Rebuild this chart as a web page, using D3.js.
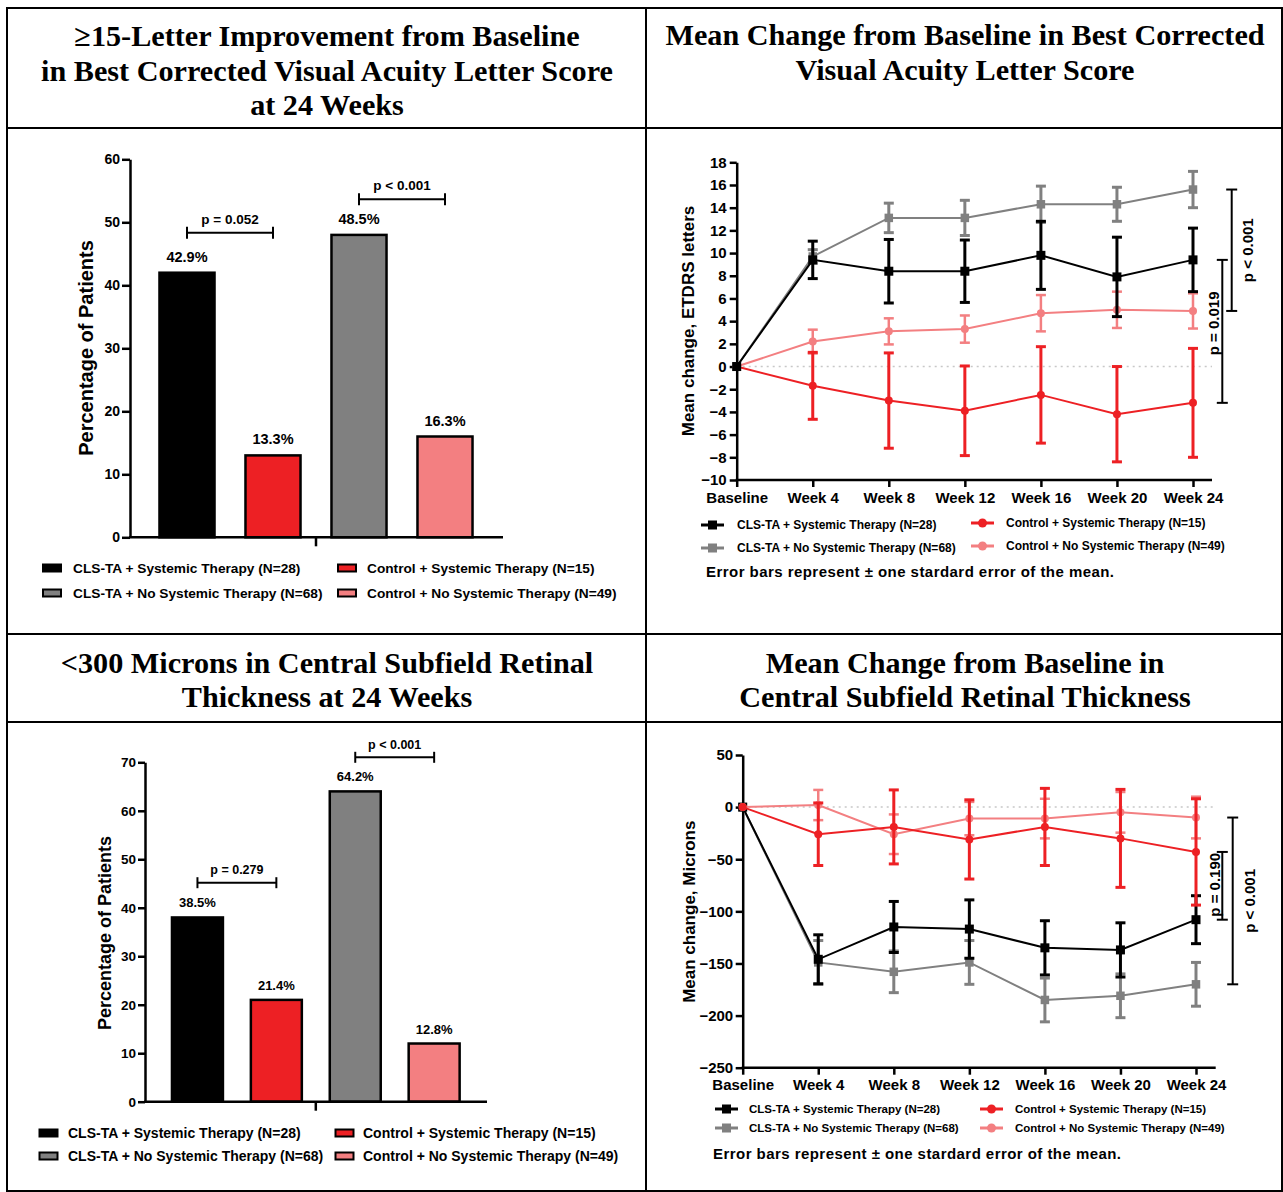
<!DOCTYPE html>
<html><head><meta charset="utf-8">
<script src="https://cdn.jsdelivr.net/npm/d3@7"></script>
<style>body{margin:0;background:#fff}svg{display:block}</style>
</head><body>
<svg id="c" width="1283" height="1192"></svg>
<script>
// ---------- DATA ----------
const groupNames = [
  "CLS-TA + Systemic Therapy (N=28)",
  "Control + Systemic Therapy (N=15)",
  "CLS-TA + No Systemic Therapy (N=68)",
  "Control + No Systemic Therapy (N=49)"
];
// bar charts (order: CLS-TA+Sys, Control+Sys, CLS-TA+NoSys, Control+NoSys)
const bcvaBarValues = [42, 13, 48, 16];
const bcvaBarLabels = ["42.9%", "13.3%", "48.5%", "16.3%"];
const bcvaBarPvals = ["p = 0.052", "p < 0.001"];
const cstBarValues = [38, 21, 64, 12];
const cstBarLabels = ["38.5%", "21.4%", "64.2%", "12.8%"];
const cstBarPvals = ["p = 0.279", "p < 0.001"];

const weeks = ["Baseline", "Week 4", "Week 8", "Week 12", "Week 16", "Week 20", "Week 24"];
// BCVA mean change (ETDRS letters) and SE
const bcvaClsSys = [0, 9.4, 8.4, 8.4, 9.8, 7.9, 9.4];
const bcvaClsSysSE = [0, 1.65, 2.8, 2.75, 3.0, 3.5, 2.8];
const bcvaClsNoSys = [0, 9.7, 13.1, 13.1, 14.3, 14.3, 15.6];
const bcvaClsNoSysSE = [0, 0.6, 1.3, 1.55, 1.6, 1.5, 1.6];
const bcvaCtlSys = [0, -1.7, -3.0, -3.9, -2.5, -4.2, -3.2];
const bcvaCtlSysSE = [0, 2.95, 4.2, 3.95, 4.25, 4.2, 4.8];
const bcvaCtlNoSys = [0, 2.2, 3.1, 3.3, 4.7, 5.0, 4.9];
const bcvaCtlNoSysSE = [0, 1.05, 1.15, 1.2, 1.6, 1.6, 1.55];
const bcvaLinePvals = ["p < 0.001", "p = 0.019"];
// CST mean change (microns) and SE
const cstClsSys = [0, -146, -115, -117, -135, -137, -108];
const cstClsSysSE = [0, 23.5, 24.5, 28, 26, 26, 23];
const cstClsNoSys = [0, -149, -158, -149, -185, -181, -170];
const cstClsNoSysSE = [0, 21, 20, 21, 21, 21, 21];
const cstCtlSys = [0, -26, -19, -31, -19, -30, -43];
const cstCtlSysSE = [0, 30, 35.5, 38, 37, 47, 51];
const cstCtlNoSys = [0, 2, -26, -11, -11, -5, -10];
const cstCtlNoSysSE = [0, 14.5, 19, 16, 19, 19.5, 20];
const cstLinePvals = ["p < 0.001", "p = 0.190"];

const errNote = "Error bars represent ± one stardard error of the mean.";

// ---------- STYLE ----------
const COL = {black: "#000000", red: "#ed2024", gray: "#808080", pink: "#f37f81"};
const barColors = [COL.black, COL.red, COL.gray, COL.pink];
const SANS = "'Liberation Sans', Arial, Helvetica, sans-serif";
const SERIF = "'Liberation Serif', 'Times New Roman', serif";

const svg = d3.select("#c");

// ---------- FRAME ----------
const frame = svg.append("g").attr("stroke", "#000").attr("stroke-width", 2).attr("fill", "none");
frame.append("rect").attr("x", 7).attr("y", 8).attr("width", 1275).attr("height", 1183);
[[7, 128, 1282, 128], [7, 634, 1282, 634], [7, 722, 1282, 722], [646, 8, 646, 1191]].forEach(l =>
  frame.append("line").attr("x1", l[0]).attr("y1", l[1]).attr("x2", l[2]).attr("y2", l[3]));

function title(cx, lines, baselines) {
  lines.forEach((t, i) => svg.append("text").attr("x", cx).attr("y", baselines[i])
    .attr("text-anchor", "middle").attr("font-family", SERIF).attr("font-weight", "bold")
    .attr("font-size", 30.2).text(t));
}
title(327, ["≥15-Letter Improvement from Baseline", "in Best Corrected Visual Acuity Letter Score", "at 24 Weeks"], [46, 81, 115]);
title(965, ["Mean Change from Baseline in Best Corrected", "Visual Acuity Letter Score"], [45, 80]);
title(327, ["<300 Microns in Central Subfield Retinal", "Thickness at 24 Weeks"], [673, 707]);
title(965, ["Mean Change from Baseline in", "Central Subfield Retinal Thickness"], [673, 707]);

function styleAxis(g, fs, sw) {
  g.select(".domain").attr("stroke", "#000").attr("stroke-width", sw);
  g.selectAll(".tick line").attr("stroke", "#000").attr("stroke-width", sw);
  g.selectAll(".tick text").attr("font-family", SANS).attr("font-weight", "bold")
    .attr("font-size", fs).attr("fill", "#000");
}

// ---------- BAR CHART ----------
function barChart(cfg) {
  const g = svg.append("g");
  const y = d3.scaleLinear().domain([0, cfg.yMax]).range([cfg.yBase, cfg.yTop]);
  const x = d3.scaleBand().domain(groupNames).range(cfg.xRange)
    .paddingInner(cfg.pad).paddingOuter(cfg.pad / 2);
  const bw = x.bandwidth();
  g.selectAll("rect.bar").data(groupNames).join("rect").attr("class", "bar")
    .attr("x", d => x(d)).attr("width", bw)
    .attr("y", (d, i) => y(cfg.values[i])).attr("height", (d, i) => y(0) - y(cfg.values[i]))
    .attr("fill", (d, i) => barColors[i]).attr("stroke", "#000").attr("stroke-width", 2.5);
  g.selectAll("text.val").data(groupNames).join("text").attr("class", "val")
    .attr("x", d => x(d) + bw / 2).attr("y", (d, i) => y(cfg.values[i]) - cfg.labelGap)
    .attr("text-anchor", "middle").attr("font-family", SANS).attr("font-weight", "bold")
    .attr("font-size", cfg.labelFs).text((d, i) => cfg.labels[i]);
  // y axis
  const ya = g.append("g").attr("transform", `translate(${cfg.axisX},0)`)
    .call(d3.axisLeft(y).tickValues(d3.range(0, cfg.yMax + 1, 10)).tickSize(cfg.tick)
      .tickSizeOuter(0).tickPadding(2).tickFormat(d3.format("d")));
  styleAxis(ya, cfg.tickFs, 2.5);
  // x axis
  g.append("line").attr("x1", cfg.axisX - 1).attr("x2", cfg.xEnd).attr("y1", y(0)).attr("y2", y(0))
    .attr("stroke", "#000").attr("stroke-width", 2.5);
  const mid = (x(groupNames[1]) + bw + x(groupNames[2])) / 2;
  g.append("line").attr("x1", mid).attr("x2", mid).attr("y1", y(0)).attr("y2", y(0) + 9)
    .attr("stroke", "#000").attr("stroke-width", 2.5);
  // brackets
  cfg.brackets.forEach(b => {
    const x1 = x(groupNames[b.a]) + bw / 2, x2 = x(groupNames[b.b]) + bw / 2;
    const bg = g.append("g").attr("stroke", "#000").attr("stroke-width", 2);
    bg.append("line").attr("x1", x1).attr("x2", x2).attr("y1", b.y).attr("y2", b.y);
    [x1, x2].forEach(xx => bg.append("line").attr("x1", xx).attr("x2", xx)
      .attr("y1", b.y - b.cap).attr("y2", b.y + b.cap));
    g.append("text").attr("x", (x1 + x2) / 2).attr("y", b.y - b.gap).attr("text-anchor", "middle")
      .attr("font-family", SANS).attr("font-weight", "bold").attr("font-size", cfg.pFs).text(b.text);
  });
  // y label
  g.append("text").attr("transform", `translate(${cfg.ylabX},${cfg.ylabY}) rotate(-90)`)
    .attr("text-anchor", "middle").attr("dy", "0.35em").attr("font-family", SANS)
    .attr("font-weight", "bold").attr("font-size", cfg.ylabFs).text("Percentage of Patients");
  // legend
  const legPos = [[0, 0], [1, 0], [0, 1], [1, 1]];
  groupNames.forEach((nm, i) => {
    const cx = cfg.leg.sx[legPos[i][0]], tx = cfg.leg.tx[legPos[i][0]], ry = cfg.leg.ry[legPos[i][1]];
    g.append("rect").attr("x", cx).attr("y", ry - 3.5).attr("width", 18).attr("height", 7)
      .attr("fill", barColors[i]).attr("stroke", "#000").attr("stroke-width", 2);
    g.append("text").attr("x", tx).attr("y", ry).attr("dy", "0.35em").attr("font-family", SANS)
      .attr("font-weight", "bold").attr("font-size", cfg.leg.fs).text(nm);
  });
}

barChart({
  values: bcvaBarValues, labels: bcvaBarLabels, yMax: 60, yBase: 537.3, yTop: 159.3,
  xRange: [144, 488], pad: 0.36, axisX: 130, xEnd: 503, tick: 8, tickFs: 14,
  labelGap: 11, labelFs: 14.5, pFs: 13.5,
  brackets: [{a: 0, b: 1, y: 232.7, cap: 6, gap: 9, text: bcvaBarPvals[0]},
             {a: 2, b: 3, y: 199.3, cap: 6, gap: 9, text: bcvaBarPvals[1]}],
  ylabX: 86, ylabY: 348, ylabFs: 20,
  leg: {sx: [43, 338], tx: [73, 367], ry: [568, 593], fs: 13.7}
});
barChart({
  values: cstBarValues, labels: cstBarLabels, yMax: 70, yBase: 1101.7, yTop: 762.3,
  xRange: [158, 473.6], pad: 0.354, axisX: 145, xEnd: 487, tick: 7, tickFs: 13.5,
  labelGap: 10, labelFs: 13, pFs: 12.5,
  brackets: [{a: 0, b: 1, y: 882.7, cap: 5.5, gap: 8.5, text: cstBarPvals[0]},
             {a: 2, b: 3, y: 757.3, cap: 5.5, gap: 8.5, text: cstBarPvals[1]}],
  ylabX: 105, ylabY: 933, ylabFs: 18,
  leg: {sx: [39.5, 335.5], tx: [68, 363], ry: [1133, 1156], fs: 14}
});

// ---------- LINE CHART ----------
function lineChart(cfg) {
  const g = svg.append("g");
  const x = d3.scalePoint().domain(weeks).range(cfg.xRange);
  const y = d3.scaleLinear().domain(cfg.yDomain).range([cfg.yBottom, cfg.yTop]);
  // y axis
  const ya = g.append("g").attr("transform", `translate(${cfg.xRange[0]},0)`)
    .call(d3.axisLeft(y).tickValues(d3.range(cfg.yDomain[0], cfg.yDomain[1] + 0.01, cfg.yStep))
      .tickSize(7).tickSizeOuter(0).tickPadding(cfg.yPad));
  styleAxis(ya, 15, 2.5);
  // x axis
  const xa = g.append("g").attr("transform", `translate(0,${cfg.yBottom})`)
    .call(d3.axisBottom(x).tickSize(7).tickSizeOuter(0).tickPadding(5));
  styleAxis(xa, 15, 2.5);
  xa.select(".domain").remove();
  g.append("line").attr("x1", cfg.xRange[0] - 1).attr("x2", cfg.xEnd).attr("y1", cfg.yBottom)
    .attr("y2", cfg.yBottom).attr("stroke", "#000").attr("stroke-width", 2.5);
  // zero line
  g.append("line").attr("x1", cfg.xRange[0]).attr("x2", cfg.xEnd).attr("y1", y(0)).attr("y2", y(0))
    .attr("stroke", "#c8c8c8").attr("stroke-width", 1.5).attr("stroke-dasharray", "2,4");
  // series
  cfg.series.forEach(s => {
    const sg = g.append("g");
    sg.append("path").datum(s.vals)
      .attr("d", d3.line().x((d, i) => x(weeks[i])).y(d => y(d)))
      .attr("fill", "none").attr("stroke", s.color).attr("stroke-width", 2);
    s.vals.forEach((v, i) => {
      if (!s.se[i]) return;
      const xx = x(weeks[i]);
      const eg = sg.append("g").attr("stroke", s.color).attr("stroke-width", s.ew);
      eg.append("line").attr("x1", xx).attr("x2", xx).attr("y1", y(v + s.se[i])).attr("y2", y(v - s.se[i]));
      [v + s.se[i], v - s.se[i]].forEach(e => eg.append("line")
        .attr("x1", xx - 5).attr("x2", xx + 5).attr("y1", y(e)).attr("y2", y(e)));
    });
    s.vals.forEach((v, i) => {
      const xx = x(weeks[i]);
      if (s.shape === "square")
        sg.append("rect").attr("x", xx - s.size / 2).attr("y", y(v) - s.size / 2)
          .attr("width", s.size).attr("height", s.size).attr("fill", s.color);
      else
        sg.append("circle").attr("cx", xx).attr("cy", y(v)).attr("r", s.size / 2).attr("fill", s.color);
    });
  });
  // brackets
  cfg.brackets.forEach(b => {
    const y1 = y(b.from[6]), y2 = y(b.to[6]);
    const bg = g.append("g").attr("stroke", "#000").attr("stroke-width", 2);
    bg.append("line").attr("x1", b.x).attr("x2", b.x).attr("y1", y1).attr("y2", y2);
    [y1, y2].forEach(yy => bg.append("line").attr("x1", b.x - 5.5).attr("x2", b.x + 5.5)
      .attr("y1", yy).attr("y2", yy));
    g.append("text").attr("transform", `translate(${b.tx},${(y1 + y2) / 2 + b.dy}) rotate(-90)`)
      .attr("text-anchor", "middle").attr("dy", "0.35em").attr("font-family", SANS)
      .attr("font-weight", "bold").attr("font-size", 15).text(b.text);
  });
  // y label
  g.append("text").attr("transform", `translate(${cfg.ylabX},${cfg.ylabY}) rotate(-90)`)
    .attr("text-anchor", "middle").attr("dy", "0.35em").attr("font-family", SANS)
    .attr("font-weight", "bold").attr("font-size", 17).text(cfg.ylab);
  // legend
  cfg.legSeries.forEach(s => {
    const col = s.col, row = s.row;
    const x1 = cfg.leg.sx[col], ry = cfg.leg.ry[row] + (col === 1 ? cfg.leg.rdy : 0);
    g.append("line").attr("x1", x1).attr("x2", x1 + 23).attr("y1", ry).attr("y2", ry)
      .attr("stroke", s.color).attr("stroke-width", 3);
    if (s.shape === "square")
      g.append("rect").attr("x", x1 + 11.5 - 4.5).attr("y", ry - 4.5).attr("width", 9).attr("height", 9).attr("fill", s.color);
    else
      g.append("circle").attr("cx", x1 + 11.5).attr("cy", ry).attr("r", 4.5).attr("fill", s.color);
    g.append("text").attr("x", cfg.leg.tx[col]).attr("y", ry).attr("dy", "0.35em")
      .attr("font-family", SANS).attr("font-weight", "bold").attr("font-size", cfg.leg.fs).text(s.name);
  });
  g.append("text").attr("x", cfg.noteX).attr("y", cfg.noteY).attr("dy", "0.35em")
    .attr("font-family", SANS).attr("font-weight", "bold").attr("font-size", 15)
    .attr("letter-spacing", 0.45).text(errNote);
}

function mkSeries(vals) {
  // vals: [clsSys, clsSysSE, clsNoSys, clsNoSysSE, ctlSys, ctlSysSE, ctlNoSys, ctlNoSysSE]
  return {
    blk: {name: groupNames[0], vals: vals[0], se: vals[1], color: COL.black, shape: "square", size: 9, ew: 3, col: 0, row: 0},
    gry: {name: groupNames[2], vals: vals[2], se: vals[3], color: COL.gray, shape: "square", size: 8.5, ew: 3, col: 0, row: 1},
    red: {name: groupNames[1], vals: vals[4], se: vals[5], color: COL.red, shape: "circle", size: 8, ew: 3, col: 1, row: 0},
    pnk: {name: groupNames[3], vals: vals[6], se: vals[7], color: COL.pink, shape: "circle", size: 8, ew: 2.5, col: 1, row: 1}
  };
}

const sB = mkSeries([bcvaClsSys, bcvaClsSysSE, bcvaClsNoSys, bcvaClsNoSysSE, bcvaCtlSys, bcvaCtlSysSE, bcvaCtlNoSys, bcvaCtlNoSysSE]);
lineChart({
  xRange: [736.7, 1193], xEnd: 1212, yDomain: [-10, 18], yStep: 2, yBottom: 480, yTop: 162.3, yPad: 3,
  series: [sB.pnk, sB.red, sB.gry, sB.blk],
  legSeries: [sB.blk, sB.red, sB.gry, sB.pnk],
  brackets: [{from: bcvaClsNoSys, to: bcvaCtlNoSys, x: 1231.7, tx: 1248, dy: 0, text: bcvaLinePvals[0]},
             {from: bcvaClsSys, to: bcvaCtlSys, x: 1222.3, tx: 1213.3, dy: -8, text: bcvaLinePvals[1]}],
  ylab: "Mean change, ETDRS letters", ylabX: 688, ylabY: 321,
  leg: {sx: [701, 971], tx: [737, 1006], ry: [525, 548], rdy: -2, fs: 12},
  noteX: 706, noteY: 572
});

const sC = mkSeries([cstClsSys, cstClsSysSE, cstClsNoSys, cstClsNoSysSE, cstCtlSys, cstCtlSysSE, cstCtlNoSys, cstCtlNoSysSE]);
lineChart({
  xRange: [742.7, 1196], xEnd: 1215.7, yDomain: [-250, 50], yStep: 50, yBottom: 1067.7, yTop: 755, yPad: 2.5,
  series: [sC.gry, sC.blk, sC.pnk, sC.red],
  legSeries: [sC.blk, sC.red, sC.gry, sC.pnk],
  brackets: [{from: cstCtlNoSys, to: cstClsNoSys, x: 1232.7, tx: 1249.3, dy: 0, text: cstLinePvals[0]},
             {from: cstCtlSys, to: cstClsSys, x: 1222.3, tx: 1214.3, dy: -1, text: cstLinePvals[1]}],
  ylab: "Mean change, Microns", ylabX: 689.3, ylabY: 911.7,
  leg: {sx: [715, 980], tx: [749, 1015], ry: [1109, 1128], rdy: 0, fs: 11.5},
  noteX: 713, noteY: 1154
});
</script>
</body></html>
